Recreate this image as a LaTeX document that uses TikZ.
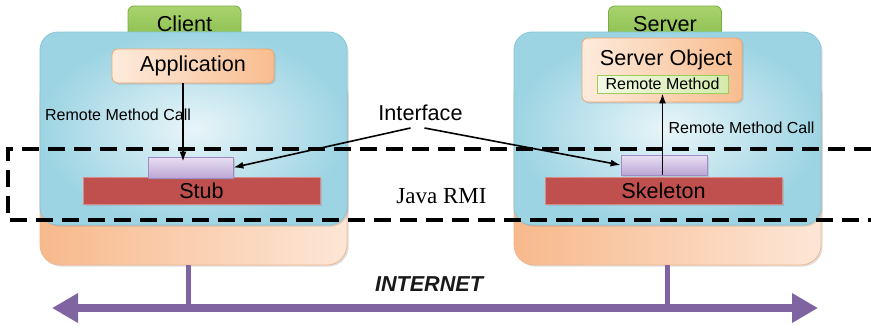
\documentclass[tikz,border=0pt]{standalone}
\usepackage{fontspec}
\setmainfont{Liberation Sans}
\newfontfamily\rmiserif{Liberation Serif}
\usetikzlibrary{arrows.meta,shadows}

\begin{document}
\begin{tikzpicture}[x=0.5pt,y=-0.5pt,
  bignode/.style={font=\fontsize{10.8}{12}\selectfont},
  smallnode/.style={font=\fontsize{8}{9.5}\selectfont},
  softshadow/.style={drop shadow={opacity=0.25,shadow xshift=0.8pt,shadow yshift=-0.8pt}},
  basebox/.style={rounded corners=10pt,draw=baseedge,left color=baseT,right color=baseB,
    minimum width=153.5pt,minimum height=95pt,softshadow},
  panel/.style={rounded corners=9pt,draw=paneledge,inner color=panelL,outer color=panelR,
    minimum width=153.5pt,minimum height=96.5pt,softshadow},
  tab/.style={rounded corners=3pt,draw=tabedge,top color=tabT,bottom color=tabB,
    minimum width=56.5pt,minimum height=19pt},
  appbox/.style={rounded corners=3pt,draw=appedge,left color=appL,right color=appR,inner sep=0pt,softshadow},
  methbox/.style={draw=methedge,left color=methL,right color=methR,inner sep=0pt,
    minimum width=65.5pt,minimum height=9pt},
  ifbox/.style={draw=ifedge,top color=ifT,bottom color=ifB,inner sep=0pt,softshadow},
  redbar/.style={fill=barred,draw=baredge,minimum width=118.5pt,minimum height=13.5pt,inner sep=0pt,softshadow},
  call/.style={line width=0.8pt,-{Latex[length=5pt,width=3.5pt]}},
  rmiline/.style={line width=1.6pt,dash pattern=on 8.5pt off 4.5pt},
  netline/.style={draw=netpurple,line width=4pt,
    {Triangle[length=13pt,width=14pt]}-{Triangle[length=13pt,width=14pt]}},
  netstub/.style={draw=netpurple,line width=2.8pt}]
\definecolor{baseT}{HTML}{F7B98C}
\definecolor{baseB}{HTML}{FDE6D6}
\definecolor{baseedge}{HTML}{F2B68E}
\definecolor{panelL}{HTML}{E8F5F9}
\definecolor{panelR}{HTML}{9DD4E3}
\definecolor{paneledge}{HTML}{86C5D8}
\definecolor{tabT}{HTML}{A9D36F}
\definecolor{tabB}{HTML}{86BC4A}
\definecolor{tabedge}{HTML}{78AD3F}
\definecolor{appL}{HTML}{FDEBDC}
\definecolor{appR}{HTML}{F8BD8F}
\definecolor{appedge}{HTML}{F2A66E}
\definecolor{methL}{HTML}{F3F9E4}
\definecolor{methR}{HTML}{D4EBAA}
\definecolor{methedge}{HTML}{9DCB5C}
\definecolor{ifT}{HTML}{E9E0F2}
\definecolor{ifB}{HTML}{BBA6D5}
\definecolor{ifedge}{HTML}{A28BC4}
\definecolor{barred}{HTML}{C0504D}
\definecolor{baredge}{HTML}{D88A88}
\definecolor{netpurple}{HTML}{8064A2}
\useasboundingbox (0,0) rectangle (871,328);

% the two machines
\foreach \m/\cx/\tx/\title in {c/193.5/184.5/Client,s/667.5/665/Server}
{ \node[basebox] (\m-base) at (\cx,170) {};
  \node[tab] (\m-tab) at (\tx,25) {};
  \node[panel] (\m-panel) at (\cx,128.5) {};
  \node[bignode,anchor=base] (\m-title) at (\tx,31) {\title};}

% client side
\node[appbox,bignode,minimum width=81pt,minimum height=17pt] (capp) at (193,66) {Application};
\node[smallnode] (cnote) at (118,115) {Remote Method Call};
\node[redbar,bignode] (stub) at (201.5,190.5) {Stub};
\node[ifbox,minimum width=42.5pt,minimum height=10.5pt] (cif) at (190.5,167.5) {};

% server side
\node[appbox,minimum width=80pt,minimum height=32pt] (sobj) at (662,70) {};
\node[bignode,anchor=base] (sobjtext) at (666,65) {Server Object};
\node[methbox,smallnode] (smeth) at (662.5,84) {Remote Method};
\node[redbar,bignode] (skel) at (663.5,190.5) {Skeleton};
\node[ifbox,minimum width=43pt,minimum height=10pt] (sif) at (664,165) {};
\node[smallnode] (snote) at (741.5,128) {Remote Method Call};

% calls
\draw[call] ([xshift=-5pt]capp.south) -- ([xshift=-5pt,yshift=-2.5pt]capp.south |- cif.north);
\draw[call] (smeth.south |- sif.south) -- (smeth.south);

% interface
\node[bignode] (iface) at (420.5,113) {Interface};
\draw[call] ([xshift=-5pt]iface.south) -- (cif.east);
\draw[call] ([xshift=2pt]iface.south) -- (sif.west);

% java rmi layer
\draw[rmiline] (871,149) -- (8,149) -- (8,220) -- (871,220);
\node[font=\rmiserif\fontsize{11.5}{13}\selectfont] (jrmi) at (441.5,196) {Java RMI};

% internet
\coordinate (netL) at (52,308);
\coordinate (netR) at (818,308);
\draw[netstub] ([xshift=-2.5pt]c-base.south) -- ([xshift=-2.5pt]c-base.south |- netL);
\draw[netstub] (s-base.south) -- (s-base.south |- netR);
\draw[netline] (netL) -- (netR);
\node[font=\fontsize{10.8}{12}\selectfont\bfseries\itshape,text=black!90] (inet) at (429,284) {INTERNET};
\end{tikzpicture}
\end{document}
